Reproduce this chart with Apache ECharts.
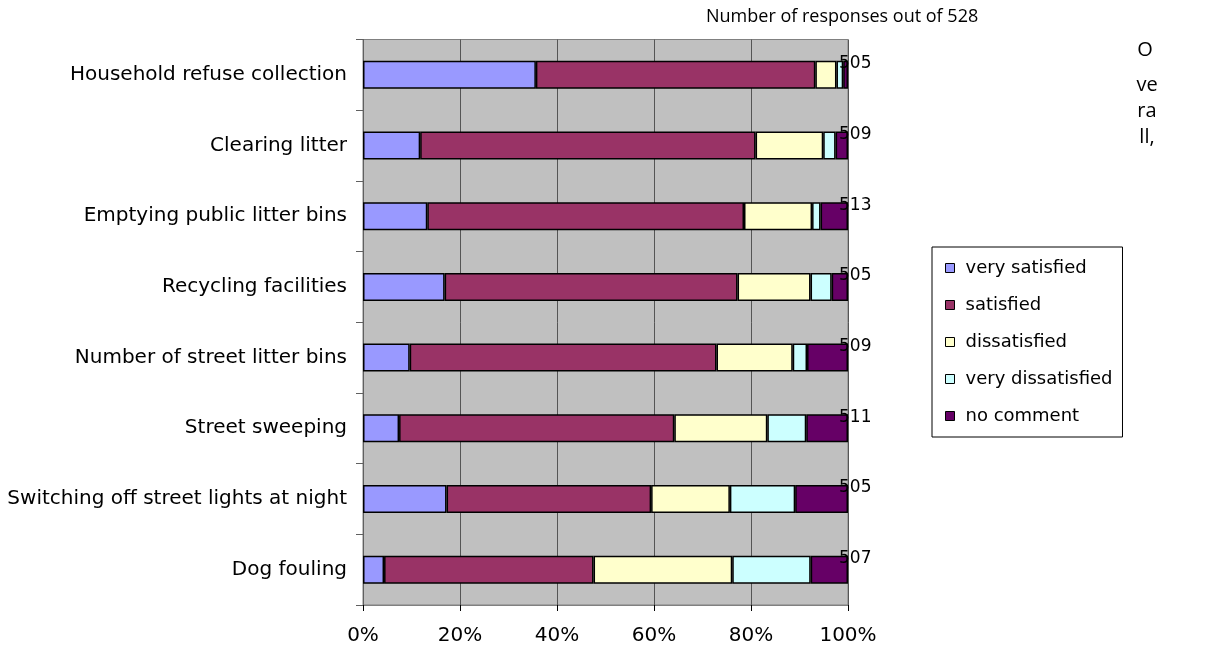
<!DOCTYPE html>
<html>
<head>
<meta charset="utf-8">
<style>
  html, body { margin: 0; padding: 0; background: #ffffff; }
  #chart { width: 1207px; height: 650px; }
</style>
<script src="https://cdn.jsdelivr.net/npm/echarts@6/dist/echarts.min.js"></script>
</head>
<body>
<div id="chart"></div>
<script>
// Satisfaction with street services: response counts per service
const categories = [
  'Household refuse collection',
  'Clearing litter',
  'Emptying public litter bins',
  'Recycling facilities',
  'Number of street litter bins',
  'Street sweeping',
  'Switching off street lights at night',
  'Dog fouling'
];
const seriesNames = ['very satisfied', 'satisfied', 'dissatisfied', 'very dissatisfied', 'no comment'];
const verySatisfied    = [180,  60,  68,  85,  49,  38,  87,  22];
const satisfied        = [291, 352, 335, 305, 322, 290, 213, 219];
const dissatisfied     = [ 22,  71,  72,  76,  80,  98,  82, 145];
const veryDissatisfied = [  7,  13,   9,  22,  15,  41,  68,  82];
const noComment        = [  5,  13,  29,  17,  43,  44,  55,  39];
const responseTotals   = [505, 509, 513, 505, 509, 511, 505, 507];
const xTickValues = [0, 20, 40, 60, 80, 100];
const seriesColors = ['#9999FF', '#993366', '#FFFFCC', '#CCFFFF', '#660066'];

const counts = [verySatisfied, satisfied, dissatisfied, veryDissatisfied, noComment];
// each bar is shown as a share of that service's responses
const share = (arr) => arr.map((v, i) => v / responseTotals[i] * 100);

const chart = echarts.init(document.getElementById('chart'));

const series = counts.map((arr, k) => ({
  name: seriesNames[k],
  type: 'bar',
  stack: 'all',
  barWidth: 28,
  data: share(arr),
  itemStyle: { color: seriesColors[k], borderColor: '#000000', borderWidth: 1.5 },
  emphasis: { disabled: true },
  label: k === counts.length - 1 ? {
    show: true,
    position: 'right',
    distance: 0,
    offset: [-9, -11],
    formatter: (p) => String(responseTotals[p.dataIndex]),
    fontFamily: 'DejaVu Sans',
    fontSize: 17,
    color: '#000000'
  } : { show: false }
}));

chart.setOption({
  animation: false,
  backgroundColor: '#ffffff',
  grid: {
    left: 363, top: 39.5, width: 485, height: 565.5,
    show: true, backgroundColor: '#C0C0C0', borderColor: '#808080', borderWidth: 1
  },
  graphic: [
    { type: 'text', left: 706, top: 8,
      style: { text: 'Number of responses out of 528', font: '18px "Open Sans"', fill: '#000000' } },
    { type: 'text', x: 1145, y: 50, style: { text: 'O',   font: '20px "Open Sans"', fill: '#000', align: 'center', verticalAlign: 'middle' } },
    { type: 'text', x: 1147, y: 85, style: { text: 've',  font: '20px "Open Sans"', fill: '#000', align: 'center', verticalAlign: 'middle' } },
    { type: 'text', x: 1147, y: 111, style: { text: 'ra', font: '20px "Open Sans"', fill: '#000', align: 'center', verticalAlign: 'middle' } },
    { type: 'text', x: 1147, y: 137, style: { text: 'll,', font: '20px "Open Sans"', fill: '#000', align: 'center', verticalAlign: 'middle' } }
  ],
  legend: {
    data: seriesNames,
    orient: 'vertical',
    left: 932, top: 247,
    padding: [12, 10, 12, 13],
    backgroundColor: '#ffffff',
    borderColor: '#000000', borderWidth: 1,
    itemWidth: 9, itemHeight: 9, itemGap: 19,
    icon: 'rect',
    itemStyle: { borderColor: '#000000', borderWidth: 1 },
    textStyle: { fontFamily: 'DejaVu Sans', fontSize: 18, lineHeight: 16, color: '#000000', padding: [0, 0, 0, 6] },
    selectedMode: false
  },
  xAxis: {
    type: 'value', min: 0, max: 100, interval: 20,
    axisLine: { show: true, lineStyle: { color: '#808080', width: 1 } },
    axisTick: { show: true, length: 6, lineStyle: { color: '#000000' } },
    axisLabel: {
      margin: 21, fontFamily: 'DejaVu Sans', fontSize: 20, color: '#000000',
      formatter: (v) => xTickValues.includes(v) ? v + '%' : ''
    },
    splitLine: { show: true, lineStyle: { color: '#555555', width: 1 } }
  },
  yAxis: {
    type: 'category', data: categories, inverse: true,
    axisLine: { show: true, lineStyle: { color: '#606060', width: 1 } },
    axisTick: { show: true, length: 7, lineStyle: { color: '#606060' } },
    axisLabel: { margin: 16, fontFamily: 'DejaVu Sans', fontSize: 20, color: '#000000' },
    splitLine: { show: false }
  },
  series: series
});
</script>
</body>
</html>
